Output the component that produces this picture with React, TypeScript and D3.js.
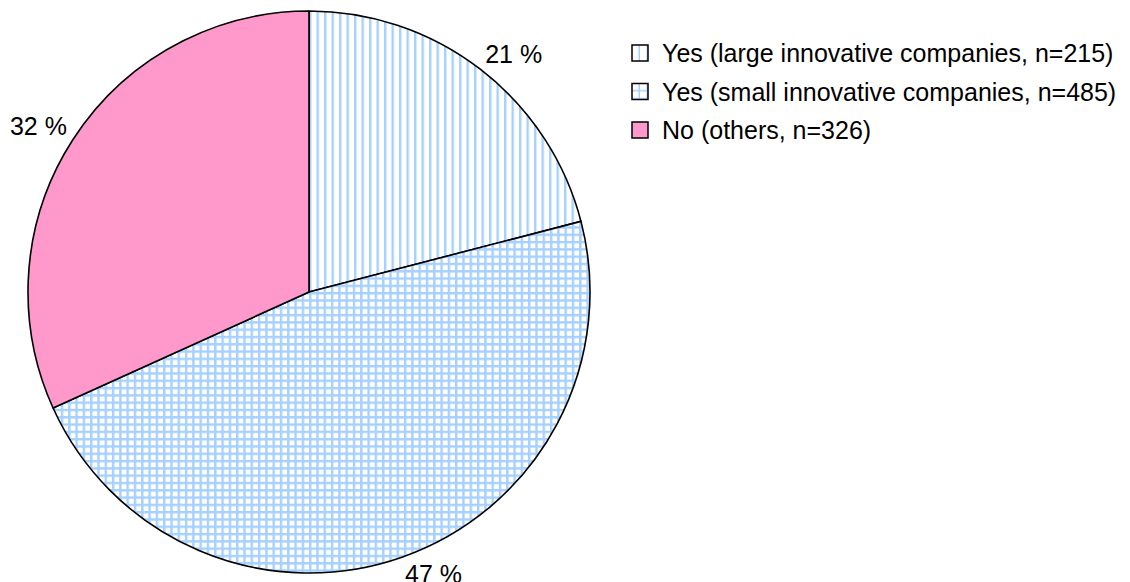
import * as d3 from "d3";
import type { ReactElement } from "react";

const categories = [
  "Yes (large innovative companies, n=215)",
  "Yes (small innovative companies, n=485)",
  "No (others, n=326)",
];
const counts = [215, 485, 326];
const percentLabels = ["21 %", "47 %", "32 %"];

const width = 1130;
const height = 582;
const cx = 309;
const cy = 292;
const radius = 281;
const labelGap = 7;
const fontSize = 25;

const fills = ["url(#pat-vert)", "url(#pat-grid)", "#ff99cc"];
const legendFills = ["url(#pat-vert-sm)", "url(#pat-grid-sm)", "#ff99cc"];
const stripe = "#a6d0ff";

type Slice = d3.PieArcDatum<number>;

// rough Arial widths (em) for the label glyphs
const textWidth = (s: string): number =>
  s.split("").reduce((acc, ch) => acc + (ch === " " ? 0.278 : ch === "%" ? 0.889 : 0.556), 0) * fontSize;

export default function App(): ReactElement {
  const pie = d3.pie<number>().sort(null).value((d) => d);
  const slices: Slice[] = pie(counts);
  const arc = d3.arc<Slice>().innerRadius(0).outerRadius(radius);

  const legendX = 632;
  const legendY = 53;
  const legendStep = 38.5;
  const boxH = 20;

  return (
    <svg
      width={width}
      height={height}
      style={{ position: "absolute", left: 0, top: 0 }}
      fontFamily="Liberation Sans, Arial, sans-serif"
    >
      <defs>
        <pattern id="pat-vert" patternUnits="userSpaceOnUse" width={7.5} height={7.5}>
          <rect width={7.5} height={7.5} fill="#ffffff" />
          <rect x={0} y={0} width={2.4} height={7.5} fill={stripe} />
        </pattern>
        <pattern id="pat-grid" patternUnits="userSpaceOnUse" width={7.3} height={7.3}>
          <rect width={7.3} height={7.3} fill="#ffffff" />
          <rect x={0} y={0} width={2.4} height={7.3} fill={stripe} />
          <rect x={0} y={0} width={7.3} height={2.4} fill={stripe} />
        </pattern>
        <pattern id="pat-vert-sm" patternUnits="userSpaceOnUse" x={legendX} y={0} width={8} height={8}>
          <rect width={8} height={8} fill="#ffffff" />
          <rect x={6.5} y={0} width={2} height={8} fill={stripe} />
        </pattern>
        <pattern id="pat-grid-sm" patternUnits="userSpaceOnUse" x={legendX} y={legendY + legendStep - 8} width={8} height={8}>
          <rect width={8} height={8} fill="#ffffff" />
          <rect x={6.5} y={0} width={2} height={8} fill={stripe} />
          <rect x={0} y={6.5} width={8} height={2} fill={stripe} />
        </pattern>
      </defs>
      <rect width={width} height={height} fill="#ffffff" />
      <g transform={`translate(${cx},${cy})`}>
        {slices.map((s, i) => (
          <path key={categories[i]} d={arc(s) ?? ""} fill={fills[i]} stroke="#000000" strokeWidth={1.6} strokeLinejoin="round" />
        ))}
        {slices.map((s, i) => {
          const mid = (s.startAngle + s.endAngle) / 2;
          const dx = Math.sin(mid);
          const dy = -Math.cos(mid);
          const r = radius + labelGap;
          const w = textWidth(percentLabels[i]);
          const x = r * dx + Math.sign(dx) * (w / 2);
          const y = r * dy + Math.sign(dy) * (boxH / 2);
          return (
            <text
              key={`lbl-${i}`}
              x={x}
              y={y}
              textAnchor="middle"
              dominantBaseline="central"
              fontSize={fontSize}
              fill="#000000"
            >
              {percentLabels[i]}
            </text>
          );
        })}
      </g>
      {categories.map((c, i) => {
        const y = legendY + i * legendStep;
        return (
          <g key={`leg-${i}`}>
            <rect x={legendX} y={y - 8} width={16} height={16} fill={legendFills[i]} stroke="#000000" strokeWidth={1.5} />
            <text x={legendX + 30} y={y} dominantBaseline="central" fontSize={fontSize} fill="#000000">
              {c}
            </text>
          </g>
        );
      })}
    </svg>
  );
}
